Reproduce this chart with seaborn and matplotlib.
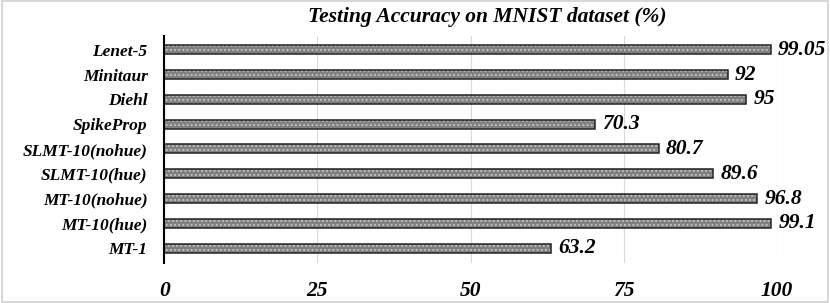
import matplotlib.pyplot as plt
import matplotlib.patches as mpatches
import seaborn as sns
import pandas as pd

models = ['Lenet-5', 'Minitaur', 'Diehl', 'SpikeProp', 'SLMT-10(nohue)',
          'SLMT-10(hue)', 'MT-10(nohue)', 'MT-10(hue)', 'MT-1']
accuracy = [99.05, 92, 95, 70.3, 80.7, 89.6, 96.8, 99.1, 63.2]
value_labels = ['99.05', '92', '95', '70.3', '80.7', '89.6', '96.8', '99.1', '63.2']
xticks = [0, 25, 50, 75, 100]

df = pd.DataFrame({'Model': models, 'Accuracy': accuracy})

sns.set_style('white')
plt.rcParams['font.family'] = ['Liberation Serif', 'DejaVu Serif']
plt.rcParams['hatch.linewidth'] = 0.9
plt.rcParams['text.color'] = 'black'
plt.rcParams['xtick.color'] = 'black'
plt.rcParams['ytick.color'] = 'black'

fig = plt.figure(figsize=(8.3, 3.03), dpi=100)
ax = fig.add_axes([0.198, 0.132, 0.738, 0.749])

# dotted gray fill (hatch takes the edge colour), then dark outline on top
sns.barplot(data=df, x='Accuracy', y='Model', orient='h', width=0.36,
            color='#808080', edgecolor='#c4c4c4', linewidth=0, hatch='....', ax=ax)
sns.barplot(data=df, x='Accuracy', y='Model', orient='h', width=0.36,
            fill=False, color='#222222', linewidth=1.1, ax=ax)

ax.set_xlim(0, 100)
ax.set_ylim(8.6, -0.55)
ax.set_xticks(xticks)
ax.set_xticklabels([str(t) for t in xticks], fontsize=15.5, fontweight='bold', style='italic')
ax.set_yticklabels(models, fontsize=12.5, fontweight='bold', style='italic')
ax.tick_params(axis='x', length=0, pad=13)
ax.tick_params(axis='y', length=0, pad=12)
ax.set_xlabel('')
ax.set_ylabel('')
ax.grid(axis='x', color='#d9d9d9', linewidth=0.8)
ax.set_axisbelow(True)
for s in ['top', 'right', 'bottom']:
    ax.spines[s].set_visible(False)
ax.spines['left'].set_color('black')
ax.spines['left'].set_linewidth(1.5)

ax.bar_label(ax.containers[0], labels=value_labels, padding=5,
             fontsize=15.5, fontweight='bold', style='italic', color='black')

fig.text(0.587, 0.943, 'Testing Accuracy on MNIST dataset (%)', ha='center', va='center',
         fontsize=15.5, fontweight='bold', style='italic', color='black')

fig.patches.append(mpatches.Rectangle((0.002, 0.004), 0.996, 0.992, transform=fig.transFigure,
                                      fill=False, edgecolor='#d0d0d0', linewidth=1.2))

plt.savefig('out.png', dpi=100)
plt.close()
